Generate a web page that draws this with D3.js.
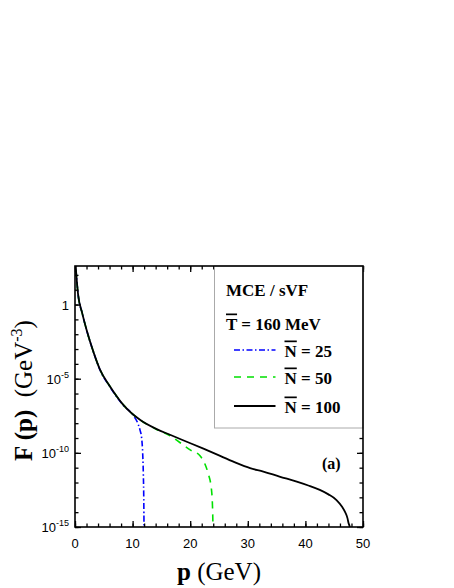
<!DOCTYPE html>
<html>
<head>
<meta charset="utf-8">
<script src="https://cdn.jsdelivr.net/npm/d3@7.9.0/dist/d3.min.js"></script>
<style>
  body { margin: 0; background: #fff; }
  svg text { fill: #000; }
</style>
</head>
<body>
<svg id="chart" width="454" height="588"></svg>
<script>
// values, F given as log10(F / GeV^-3)
const pN100 = [0, 0.12, 0.52, 1.27, 2.03, 3.3, 4.34, 6.08, 8.39, 11.28, 14.18, 16.5, 19.4, 22.3, 25.2, 28, 30.4, 32.7, 35.5, 38.5, 40.5, 42.5, 44, 45.4, 46.3, 46.9, 47.3, 47.5, 47.7, 47.8];
const logN100 = [3.2, 2.57, 0.74, -0.61, -1.74, -3.31, -4.39, -5.52, -6.76, -7.77, -8.4, -8.78, -9.25, -9.72, -10.2, -10.68, -11.03, -11.26, -11.6, -11.94, -12.2, -12.5, -12.8, -13.18, -13.6, -14.0, -14.4, -14.75, -15.0, -15.6];

const pN25 = [0, 0.12, 0.52, 1.27, 2.03, 3.3, 4.34, 6.08, 8.39, 10.1, 11.0, 11.28, 11.57, 11.86, 11.95, 12.0];
const logN25 = [3.2, 2.57, 0.74, -0.61, -1.74, -3.31, -4.41, -5.56, -6.8, -7.47, -8.1, -8.45, -9.0, -11.37, -13.5, -16];

const pN50 = [0, 0.12, 0.52, 1.27, 2.03, 3.3, 4.34, 6.08, 8.39, 11.28, 14.18, 16.5, 18.2, 20, 21.7, 22.5, 23.1, 23.7, 23.9, 24.0];
const logN50 = [3.2, 2.57, 0.74, -0.61, -1.74, -3.31, -4.39, -5.52, -6.76, -7.77, -8.42, -8.85, -9.3, -9.8, -10.2, -10.7, -11.37, -12.5, -14.0, -16];

const xMajor = [0, 10, 20, 30, 40, 50];
const xMinor = d3.range(0, 51, 2);
const yMajorExp = [0, -5, -10, -15];
const yMinorExp = d3.range(-15, 3);

const series = [
  { label: '25', p: pN25, f: logN25, color: '#0000ff', dash: '6,2.5,1.5,2.5', width: 1.6 },
  { label: '50', p: pN50, f: logN50, color: '#00e000', dash: '7,6', width: 1.6 },
  { label: '100', p: pN100, f: logN100, color: '#000000', dash: null, width: 1.8 }
];

const margin = { left: 75, top: 266, right: 91, bottom: 61 };
const W = 454, H = 588;
const w = W - margin.left - margin.right;
const h = H - margin.top - margin.bottom;

const svg = d3.select('#chart');
const g = svg.append('g').attr('transform', `translate(${margin.left},${margin.top})`);

const x = d3.scaleLinear().domain([0, 50]).range([0, w]);
const y = d3.scaleLog().domain([1e-15, Math.pow(10, 2.6)]).range([h, 0]);

svg.append('defs').append('clipPath').attr('id', 'clip')
  .append('rect').attr('width', w).attr('height', h);

// curves
const line = d3.line()
  .x(d => x(d[0]))
  .y(d => y(Math.pow(10, d[1])))
  .curve(d3.curveMonotoneX);

const curves = g.append('g').attr('clip-path', 'url(#clip)');
// black drawn last so it sits on top
series.forEach(s => {
  curves.append('path')
    .attr('d', line(s.p.map((p, i) => [p, s.f[i]])))
    .attr('fill', 'none')
    .attr('stroke', s.color)
    .attr('stroke-width', s.width)
    .attr('stroke-dasharray', s.dash);
});

// ticks, pointing inward on all four sides
function ticks(axisFn, scale, values, size, transform) {
  const a = g.append('g')
    .attr('transform', transform)
    .call(axisFn(scale).tickValues(values).tickSize(size).tickFormat(''));
  a.select('.domain').remove();
  a.selectAll('line').attr('stroke', '#000').attr('stroke-width', 1.3);
}
const minorY = yMinorExp.map(e => Math.pow(10, e));
const majorY = yMajorExp.map(e => Math.pow(10, e));
ticks(d3.axisBottom, x, xMinor, -3.5, `translate(0,${h})`);
ticks(d3.axisBottom, x, xMajor, -6, `translate(0,${h})`);
ticks(d3.axisTop, x, xMinor, -3.5, 'translate(0,0)');
ticks(d3.axisTop, x, xMajor, -6, 'translate(0,0)');
ticks(d3.axisLeft, y, minorY, -3.5, 'translate(0,0)');
ticks(d3.axisLeft, y, majorY, -6, 'translate(0,0)');
ticks(d3.axisRight, y, minorY, -3.5, `translate(${w},0)`);
ticks(d3.axisRight, y, majorY, -6, `translate(${w},0)`);

// tick labels
g.append('g').selectAll('text').data(xMajor).join('text')
  .attr('x', d => x(d)).attr('y', h + 21)
  .attr('text-anchor', 'middle')
  .attr('font-family', 'Liberation Sans, Arial, sans-serif')
  .attr('font-size', 13)
  .text(d => d);

const yl = g.append('g').selectAll('text').data(yMajorExp).join('text')
  .attr('x', -6).attr('y', d => y(Math.pow(10, d)) + 5)
  .attr('text-anchor', 'end')
  .attr('font-family', 'Liberation Sans, Arial, sans-serif')
  .attr('font-size', 13);
yl.each(function(d) {
  const t = d3.select(this);
  if (d === 0) { t.text('1'); return; }
  t.append('tspan').text('10');
  t.append('tspan').attr('dy', -6).attr('font-size', 9).text(d);
});

// legend box (covers the top-right ticks)
const lgLeft = 139.5;
const lg = g.append('g').attr('transform', `translate(${lgLeft},0)`);
lg.append('rect')
  .attr('x', 0).attr('y', 0)
  .attr('width', w - lgLeft).attr('height', 162)
  .attr('fill', '#fff').attr('stroke', '#aaa').attr('stroke-width', 1);

const serif = 'Liberation Serif, Times New Roman, serif';
lg.append('text').attr('x', 11.5).attr('y', 29.5)
  .attr('font-family', serif).attr('font-weight', 'bold').attr('font-size', 17)
  .text('MCE / sVF');

function barred(sel, letter, rest) {
  sel.append('tspan').attr('text-decoration', 'overline').text(letter);
  sel.append('tspan').text(rest);
}
barred(lg.append('text').attr('x', 11.5).attr('y', 63.5)
  .attr('font-family', serif).attr('font-weight', 'bold').attr('font-size', 17),
  'T', ' = 160 MeV');

const legendY = [84, 111, 140];
series.forEach((s, i) => {
  const yy = legendY[i];
  lg.append('line')
    .attr('x1', 19.5).attr('x2', 61).attr('y1', yy).attr('y2', yy)
    .attr('stroke', s.color).attr('stroke-width', s.width)
    .attr('stroke-dasharray', s.dash);
  barred(lg.append('text').attr('x', 70).attr('y', yy + 6.5)
    .attr('font-family', serif).attr('font-weight', 'bold').attr('font-size', 17),
    'N', ' = ' + s.label);
});

// panel label
g.append('text').attr('x', 247).attr('y', 203)
  .attr('font-family', serif).attr('font-weight', 'bold').attr('font-size', 16)
  .text('(a)');

// frame
g.append('rect').attr('width', w).attr('height', h)
  .attr('fill', 'none').attr('stroke', '#000').attr('stroke-width', 1.6);

// axis titles
const xt = svg.append('text')
  .attr('x', margin.left + w / 2).attr('y', 580)
  .attr('text-anchor', 'middle')
  .attr('font-family', serif).attr('font-size', 25);
xt.append('tspan').attr('font-weight', 'bold').text('p');
xt.append('tspan').text(' (GeV)');

const yt = svg.append('text')
  .attr('transform', `translate(32,${margin.top + h / 2 - 6}) rotate(-90)`)
  .attr('text-anchor', 'middle')
  .attr('font-family', serif).attr('font-size', 25);
yt.append('tspan').attr('font-weight', 'bold').text('F (p)');
yt.append('tspan').text('\u00a0 (GeV');
yt.append('tspan').attr('dy', -10).attr('font-size', 16).text('-3');
yt.append('tspan').attr('dy', 10).text(')');
</script>
</body>
</html>
